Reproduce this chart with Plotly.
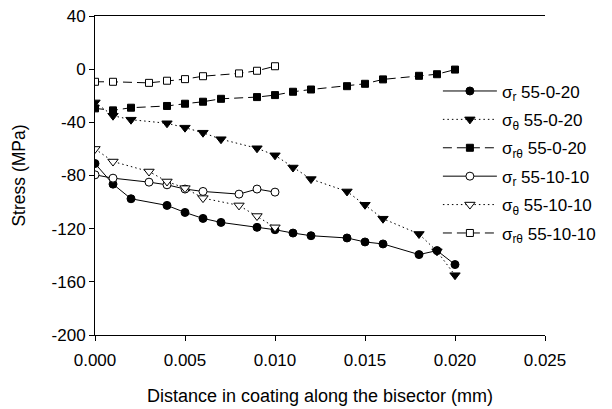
import plotly.graph_objects as go

# ---- data ----
x_r_a = [0.000, 0.001, 0.002, 0.004, 0.005, 0.006, 0.007, 0.009, 0.010, 0.011, 0.012, 0.014, 0.015, 0.016, 0.018, 0.019, 0.020]
y_r_a = [-71, -86.5, -97.5, -102.5, -107.8, -112.3, -115.3, -119, -120.8, -123.3, -125.3, -127, -130, -131.5, -139.5, -136.5, -147]

x_t_a = [0.000, 0.001, 0.002, 0.004, 0.005, 0.006, 0.007, 0.009, 0.010, 0.011, 0.012, 0.014, 0.015, 0.016, 0.018, 0.019, 0.020]
y_t_a = [-25, -35, -38, -40.7, -44, -47.8, -52.7, -59.5, -64.8, -74, -82.7, -92, -102, -112.5, -124, -137, -155]

x_rt_a = [0.000, 0.001, 0.002, 0.004, 0.005, 0.006, 0.007, 0.009, 0.010, 0.011, 0.012, 0.014, 0.015, 0.016, 0.018, 0.019, 0.020]
y_rt_a = [-29.5, -31, -29, -27.7, -26, -24.5, -22.3, -21, -19.5, -17, -15.3, -12.8, -11, -7.7, -5, -3.8, -0.3]

x_r_b = [0.000, 0.001, 0.003, 0.004, 0.005, 0.006, 0.008, 0.009, 0.010]
y_r_b = [-79.5, -82, -85, -87, -90.2, -92, -94, -90.2, -92.5]

x_t_b = [0.000, 0.001, 0.003, 0.004, 0.005, 0.006, 0.008, 0.009, 0.010]
y_t_b = [-60, -69.5, -77, -84.5, -89.5, -97, -102.5, -110.5, -119]

x_rt_b = [0.000, 0.001, 0.003, 0.004, 0.005, 0.006, 0.008, 0.009, 0.010]
y_rt_b = [-9.5, -9.5, -10.3, -8.7, -7.5, -5.3, -3.2, -1.2, 2.2]

series_names = [
    "σ<sub>r</sub> 55-0-20",
    "σ<sub>θ</sub> 55-0-20",
    "σ<sub>rθ</sub> 55-0-20",
    "σ<sub>r</sub> 55-10-10",
    "σ<sub>θ</sub> 55-10-10",
    "σ<sub>rθ</sub> 55-10-10",
]

y_tickvals = [40, 0, -40, -80, -120, -160, -200]
y_ticktext = ["40", "0", "-40", "-80", "-120", "-160", "-200"]
x_tickvals = [0.000, 0.005, 0.010, 0.015, 0.020, 0.025]
x_ticktext = ["0.000", "0.005", "0.010", "0.015", "0.020", "0.025"]

FONT = "Liberation Sans, Arial, sans-serif"
BLACK = "#000000"
DOT = "1.5px,3px"
DASH = "9px,5px"

specs = [
    (x_r_a, y_r_a, "circle", BLACK, "solid", 8),
    (x_t_a, y_t_a, "triangle-down", BLACK, DOT, 9),
    (x_rt_a, y_rt_a, "square", BLACK, DASH, 7),
    (x_r_b, y_r_b, "circle", "white", "solid", 8),
    (x_t_b, y_t_b, "triangle-down", "white", DOT, 9),
    (x_rt_b, y_rt_b, "square", "white", DASH, 7),
]

fig = go.Figure()
for i, (xs, ys, sym, fill, dash, ms) in enumerate(specs):
    fig.add_trace(go.Scatter(
        x=xs, y=ys, mode="lines+markers", name=series_names[i],
        legendgroup=f"g{i}",
        line=dict(color=BLACK, width=1, dash=dash),
        marker=dict(symbol=sym, size=ms, color=fill, line=dict(color=BLACK, width=1)),
    ))

fig.update_layout(
    width=612, height=409,
    margin=dict(l=87, r=75, t=8, b=81.5, autoexpand=False),
    paper_bgcolor="white", plot_bgcolor="white",
    font=dict(family=FONT, size=17, color=BLACK),
    showlegend=True,
    legend=dict(
        x=0.762, y=0.82, xanchor="left", yanchor="top",
        bgcolor="rgba(0,0,0,0)", borderwidth=0,
        font=dict(family=FONT, size=17, color=BLACK),
        tracegroupgap=3.3, itemwidth=54,
    ),
    xaxis=dict(
        range=[0, 0.025], tickvals=x_tickvals, ticktext=x_ticktext,
        showgrid=False, zeroline=False,
        showline=True, linecolor=BLACK, linewidth=1, mirror=True,
        ticks="outside", ticklen=5, tickcolor=BLACK, tickwidth=1,
        ticklabelstandoff=5, ticklabeloverflow="allow",
        tickfont=dict(family=FONT, size=17, color=BLACK),
        title=dict(text="Distance in coating along the bisector (mm)", standoff=19,
                   font=dict(family=FONT, size=18, color=BLACK)),
    ),
    yaxis=dict(
        range=[-200, 40], tickvals=y_tickvals, ticktext=y_ticktext,
        showgrid=False, zeroline=False,
        showline=True, linecolor=BLACK, linewidth=1,
        ticks="outside", ticklen=5, tickcolor=BLACK, tickwidth=1,
        ticklabeloverflow="allow",
        tickfont=dict(family=FONT, size=17, color=BLACK),
        title=dict(text="Stress (MPa)", standoff=21,
                   font=dict(family=FONT, size=17.5, color=BLACK)),
    ),
)

fig.write_html("out.html")
